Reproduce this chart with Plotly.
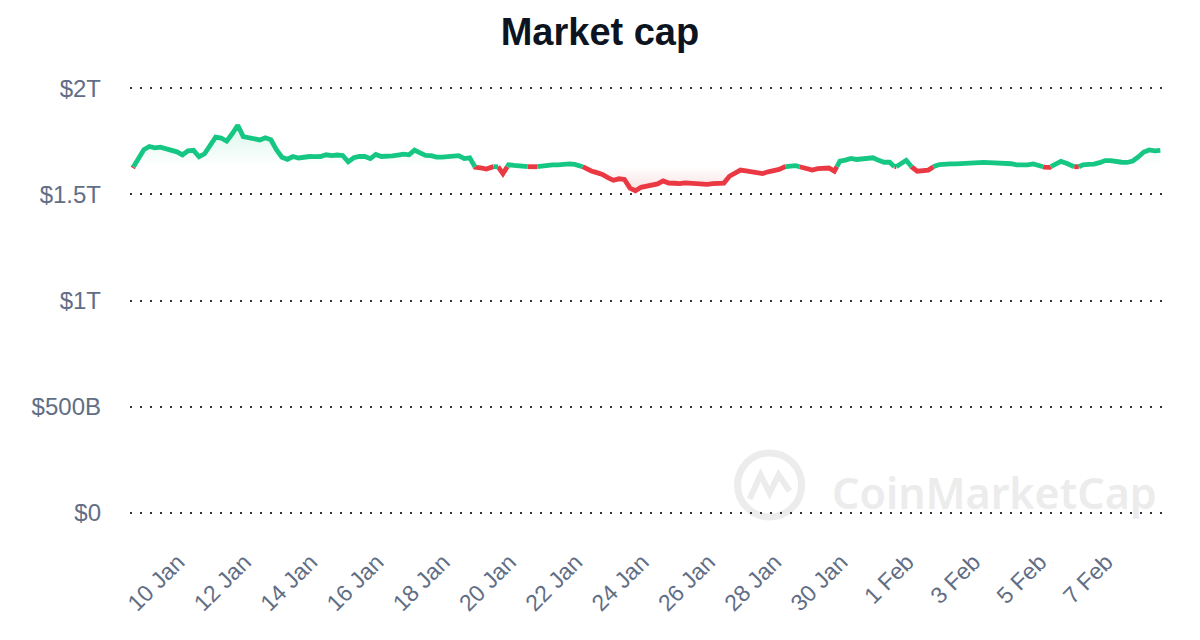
import pandas as pd
import plotly.graph_objects as go

# ---------------- data ----------------
start_time = "2024-01-08 08:00"
step_hours = 4
# total market cap, trillions of USD, one reading every 4 hours
market_cap_t = [
    1.624, 1.668, 1.710, 1.725, 1.719, 1.722, 1.715, 1.705, 1.700, 1.686,
    1.705, 1.707, 1.677, 1.691, 1.726, 1.769, 1.765, 1.750, 1.785, 1.825,
    1.772, 1.765, 1.762, 1.756, 1.766, 1.757, 1.710, 1.675, 1.665, 1.678,
    1.671, 1.677, 1.678, 1.677, 1.678, 1.686, 1.682, 1.685, 1.683, 1.653,
    1.672, 1.678, 1.678, 1.668, 1.688, 1.678, 1.678, 1.681, 1.685, 1.689,
    1.686, 1.708, 1.695, 1.683, 1.682, 1.675, 1.675, 1.678, 1.676, 1.682,
    1.668, 1.672, 1.627, 1.624, 1.619, 1.628, 1.634, 1.597, 1.639, 1.636,
    1.634, 1.631, 1.629, 1.629, 1.634, 1.639, 1.639, 1.639, 1.642, 1.643,
    1.641, 1.636, 1.622, 1.610, 1.602, 1.594, 1.579, 1.566, 1.573, 1.570,
    1.529, 1.517, 1.533, 1.540, 1.546, 1.549, 1.563, 1.553, 1.552, 1.550,
    1.554, 1.551, 1.553, 1.545, 1.547, 1.550, 1.553, 1.553, 1.585, 1.600,
    1.614, 1.610, 1.606, 1.598, 1.598, 1.606, 1.610, 1.617, 1.629, 1.634,
    1.635, 1.628, 1.623, 1.614, 1.621, 1.625, 1.624, 1.609, 1.656, 1.661,
    1.669, 1.664, 1.667, 1.665, 1.672, 1.660, 1.651, 1.651, 1.627, 1.644,
    1.660, 1.629, 1.609, 1.611, 1.614, 1.631, 1.640, 1.643, 1.643, 1.643,
    1.645, 1.646, 1.645, 1.647, 1.650, 1.649, 1.648, 1.650, 1.648, 1.644,
    1.639, 1.637, 1.639, 1.643, 1.637, 1.628, 1.627, 1.644, 1.655, 1.646,
    1.632, 1.627, 1.639, 1.641, 1.642, 1.649, 1.659, 1.659, 1.654, 1.651,
    1.650, 1.657, 1.676, 1.699, 1.709, 1.705, 1.707,
]
baseline_t = 1.630  # reference value that splits green / red

x_tick_dates = ["2024-01-10", "2024-01-12", "2024-01-14", "2024-01-16",
                "2024-01-18", "2024-01-20", "2024-01-22", "2024-01-24",
                "2024-01-26", "2024-01-28", "2024-01-30", "2024-02-01",
                "2024-02-03", "2024-02-05", "2024-02-07"]
x_tick_labels = ["10 Jan", "12 Jan", "14 Jan", "16 Jan", "18 Jan", "20 Jan",
                 "22 Jan", "24 Jan", "26 Jan", "28 Jan", "30 Jan", "1 Feb",
                 "3 Feb", "5 Feb", "7 Feb"]
y_tick_values = [0, 0.5e12, 1.0e12, 1.5e12, 2.0e12]
y_tick_labels = ["$0", "$500B", "$1T", "$1.5T", "$2T"]

# ---------------- build ----------------
GREEN = "#16c784"
RED = "#ea3943"
TEXT = "#616e85"
FONT = "Liberation Sans, Arial, sans-serif"

times = list(pd.date_range(start_time, periods=len(market_cap_t),
                           freq=f"{step_hours}h"))
vals = [v * 1e12 for v in market_cap_t]
base = baseline_t * 1e12

# insert the points where the line crosses the baseline
T, V = [], []
for i, v in enumerate(vals):
    if i > 0:
        a = vals[i - 1]
        if (a - base) * (v - base) < 0:
            f = (base - a) / (v - a)
            T.append(times[i - 1] + (times[i] - times[i - 1]) * f)
            V.append(base)
    T.append(times[i])
    V.append(v)

green_y = [v if v >= base else None for v in V]
red_y = [v if v <= base else None for v in V]
upper = [max(v, base) for v in V]
lower = [min(v, base) for v in V]
base_line = [base] * len(V)

fig = go.Figure()
common = dict(mode="lines", hoverinfo="skip", showlegend=False)
fig.add_trace(go.Scatter(x=T, y=base_line, line=dict(width=0), **common))
fig.add_trace(go.Scatter(
    x=T, y=upper, line=dict(width=0), fill="tonexty",
    fillgradient=dict(type="vertical", start=base, stop=max(vals),
                      colorscale=[[0, "rgba(22,199,132,0)"],
                                  [1, "rgba(22,199,132,0.16)"]]),
    **common))
fig.add_trace(go.Scatter(x=T, y=base_line, line=dict(width=0), **common))
fig.add_trace(go.Scatter(
    x=T, y=lower, line=dict(width=0), fill="tonexty",
    fillgradient=dict(type="vertical", start=min(vals), stop=base,
                      colorscale=[[0, "rgba(234,57,67,0.16)"],
                                  [1, "rgba(234,57,67,0)"]]),
    **common))
fig.add_trace(go.Scatter(x=T, y=red_y, line=dict(color=RED, width=4.8),
                         connectgaps=False, **common))
fig.add_trace(go.Scatter(x=T, y=green_y, line=dict(color=GREEN, width=4.8),
                         connectgaps=False, **common))

# watermark
WM = "#ececec"
fig.add_annotation(text="CoinMarketCap", xref="paper", yref="paper",
                   x=0.831, y=0.052, xanchor="center", yanchor="middle",
                   showarrow=False,
                   font=dict(family="Noto Sans, sans-serif", size=43,
                             weight=600, color=WM))
fig.add_shape(type="circle", xref="paper", yref="paper",
              xsizemode="pixel", ysizemode="pixel",
              xanchor=0.615, yanchor=0.07,
              x0=-32, x1=32, y0=-32, y1=32,
              line=dict(color=WM, width=7), layer="below")
fig.add_shape(type="path", xref="paper", yref="paper",
              xsizemode="pixel", ysizemode="pixel",
              xanchor=0.615, yanchor=0.07,
              path="M -20 -14 L -9 10 L 0 -8 L 9 10 L 20 -6",
              line=dict(color=WM, width=6), layer="below")

fig.update_layout(
    width=1200, height=640,
    margin=dict(l=122, r=38, t=78, b=133),
    paper_bgcolor="white", plot_bgcolor="white",
    title=dict(text="<b>Market cap</b>", x=0.4933, xanchor="center",
               y=0.963, yanchor="middle", yref="container",
               font=dict(family=FONT, size=38, color="#0d1421")),
    font=dict(family=FONT, color=TEXT),
)
fig.update_xaxes(
    type="date",
    range=["2024-01-08 06:00", "2024-02-08 15:00"],
    tickvals=x_tick_dates, ticktext=x_tick_labels,
    tickangle=-45, tickfont=dict(size=23, color=TEXT),
    showgrid=False, zeroline=False, showline=False, ticks="",
    ticklabelstandoff=28, ticklabelshift=-10,
)
fig.update_yaxes(
    range=[-0.01e12, 2.01e12],
    tickvals=y_tick_values, ticktext=y_tick_labels,
    tickfont=dict(size=24, color=TEXT),
    showgrid=True, gridcolor="#333333", gridwidth=2, griddash="2px,8px",
    zeroline=False, showline=False, ticks="",
    ticklabelstandoff=28,
)

fig.write_html("out.html")
